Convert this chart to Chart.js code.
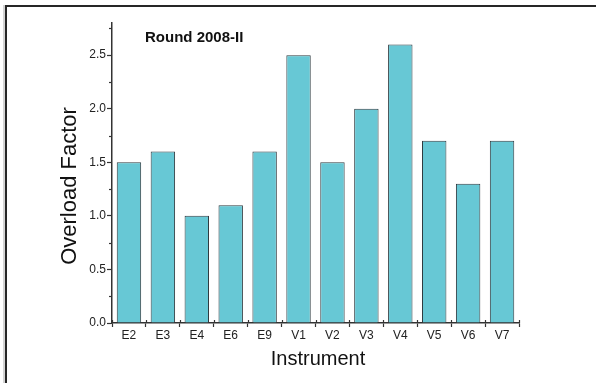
<!DOCTYPE html>
<html><head><meta charset="utf-8">
<script src="https://cdn.jsdelivr.net/npm/chart.js@4.4.0/dist/chart.umd.min.js"></script>
<style>html,body{margin:0;padding:0;background:#fff;}canvas{display:block;}</style>
</head><body>
<canvas id="c" width="596" height="383"></canvas>
<script>
const categories = ['E2','E3','E4','E6','E9','V1','V2','V3','V4','V5','V6','V7'];
const overloadFactor = [1.5,1.6,1.0,1.1,1.6,2.5,1.5,2.0,2.6,1.7,1.3,1.7];
const yTicks = [0,0.5,1.0,1.5,2.0,2.5];
const yMinorTicks = [0.25,0.75,1.25,1.75,2.25,2.75];
const chartTitle = 'Round 2008-II';
const xTitle = 'Instrument';
const yTitle = 'Overload Factor';

const FONT = '"Liberation Sans", Arial, Helvetica, sans-serif';
const AXIS = '#333333';

const decor = {
  id: 'decor',
  beforeDraw(chart) {
    const ctx = chart.ctx;
    ctx.save();
    ctx.fillStyle = '#ffffff';
    ctx.fillRect(0, 0, chart.width, chart.height);
    ctx.fillStyle = '#d4d4d4';
    ctx.fillRect(3, 5, 2, chart.height - 5);
    ctx.fillStyle = '#262626';
    ctx.fillRect(5, 5, 2, chart.height - 5);
    ctx.fillRect(5, 5, chart.width - 5, 2);
    ctx.restore();
  },
  afterDraw(chart) {
    const ctx = chart.ctx;
    const xs = chart.scales.x, ys = chart.scales.y;
    ctx.save();
    ctx.strokeStyle = AXIS;
    ctx.lineWidth = 1.2;
    // minor y ticks
    yMinorTicks.forEach(v => {
      const y = Math.round(ys.getPixelForValue(v)) + 0.5;
      ctx.beginPath();
      ctx.moveTo(xs.left - 3, y);
      ctx.lineTo(xs.left, y);
      ctx.stroke();
    });
    // inward parts of x ticks
    for (let i = 0; i <= categories.length; i++) {
      const x = Math.round(xs.getPixelForValue(i - 0.5)) + 0.5;
      ctx.beginPath();
      ctx.moveTo(x, ys.bottom);
      ctx.lineTo(x, ys.bottom - 3);
      ctx.stroke();
    }
    // texts
    ctx.fillStyle = '#111111';
    ctx.textBaseline = 'middle';
    ctx.font = 'bold 15px ' + FONT;
    ctx.textAlign = 'left';
    ctx.fillText(chartTitle, 145, 38);
    ctx.font = '20px ' + FONT;
    ctx.textAlign = 'center';
    ctx.fillText(xTitle, 318, 359);
    ctx.translate(70, 186);
    ctx.rotate(-Math.PI / 2);
    ctx.font = '22px ' + FONT;
    ctx.fillText(yTitle, 0, 0);
    ctx.restore();
  }
};

new Chart(document.getElementById('c'), {
  type: 'bar',
  data: {
    labels: categories,
    datasets: [{
      data: overloadFactor,
      backgroundColor: '#67c8d5',
      borderColor: '#2f3b40',
      borderWidth: 1,
      categoryPercentage: 1,
      barPercentage: 0.72
    }]
  },
  options: {
    responsive: false,
    devicePixelRatio: 1,
    animation: false,
    layout: { padding: { left: 0, right: 77, top: 23, bottom: 0 } },
    plugins: { legend: { display: false }, tooltip: { enabled: false }, title: { display: false } },
    scales: {
      x: {
        afterFit(s) { s.height = 60; },
        grid: { display: true, offset: true, drawOnChartArea: false, drawTicks: true, tickLength: 4, color: AXIS, tickWidth: 1.2 },
        border: { display: true, color: AXIS, width: 1.5 },
        ticks: { color: '#222', font: { family: FONT, size: 12 }, padding: 1, maxRotation: 0 }
      },
      y: {
        min: 0, max: 2.8,
        afterFit(s) { s.width = 112; },
        afterBuildTicks(s) { s.ticks = yTicks.map(v => ({ value: v })); },
        grid: { display: true, drawOnChartArea: false, drawTicks: true, tickLength: 5, color: AXIS, tickWidth: 1.2 },
        border: { display: true, color: AXIS, width: 1.5 },
        ticks: { color: '#222', font: { family: FONT, size: 12 }, padding: 1, callback: v => Number(v).toFixed(1) }
      }
    }
  },
  plugins: [decor]
});
</script>
</body></html>
